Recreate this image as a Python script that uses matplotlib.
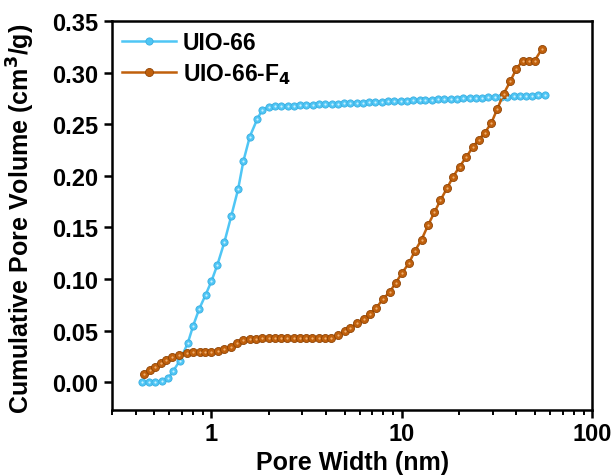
import numpy as np
import matplotlib
matplotlib.use("Agg")
from matplotlib import pyplot as plt

plt.rcParams["font.family"] = ["Liberation Sans", "DejaVu Sans"]
plt.rcParams["font.weight"] = "bold"

# UIO-66
uio_x = [0.433, 0.469, 0.508, 0.547, 0.593, 0.63, 0.682, 0.751, 0.802, 0.862,
         0.933, 1.0, 1.075, 1.17, 1.27, 1.38, 1.47, 1.59, 1.74, 1.85,
         2.0, 2.16, 2.33, 2.51, 2.71, 2.92, 3.15, 3.4, 3.67, 3.96,
         4.27, 4.61, 4.97, 5.36, 5.78, 6.24, 6.73, 7.26, 7.83, 8.45,
         9.12, 9.84, 10.6, 11.5, 12.4, 13.3, 14.4, 15.5, 16.7, 18.1,
         19.5, 21.0, 22.7, 24.5, 26.4, 28.5, 30.7, 33.1, 35.7, 38.6,
         41.6, 44.9, 48.4, 52.2, 56.4]
uio_y = [0.000, 0.000, 0.000, 0.001, 0.004, 0.011, 0.021, 0.038, 0.055, 0.071,
         0.085, 0.098, 0.114, 0.136, 0.161, 0.187, 0.214, 0.238, 0.255, 0.264,
         0.267, 0.268, 0.268, 0.268, 0.268, 0.2685, 0.2688, 0.269, 0.2692, 0.2695,
         0.2697, 0.27, 0.2702, 0.2705, 0.2707, 0.271, 0.2712, 0.2715, 0.2717, 0.272,
         0.2722, 0.2725, 0.2727, 0.273, 0.2732, 0.2735, 0.2737, 0.274, 0.2742, 0.2745,
         0.2747, 0.275, 0.2752, 0.2755, 0.2757, 0.276, 0.2762, 0.2765, 0.2767, 0.277,
         0.2772, 0.2775, 0.2777, 0.278, 0.2783]

# UIO-66-F4
f4_x = [0.441, 0.475, 0.504, 0.54, 0.58, 0.622, 0.674, 0.74, 0.80, 0.868,
        0.93, 1.0, 1.08, 1.17, 1.27, 1.36, 1.47, 1.59, 1.72, 1.85,
        2.0, 2.15, 2.32, 2.5, 2.7, 2.91, 3.14, 3.39, 3.65, 3.94,
        4.25, 4.62, 5.01, 5.37, 5.82, 6.31, 6.78, 7.35, 7.96, 8.63,
        9.27, 10.0, 10.9, 11.67, 12.7, 13.73, 14.81, 15.93, 17.28, 18.57,
        20.11, 21.73, 23.53, 25.31, 27.2, 29.5, 31.7, 34.2, 37.1, 39.9,
        43.1, 46.3, 49.8, 54.4]
f4_y = [0.0078, 0.0116, 0.0152, 0.0184, 0.0216, 0.0242, 0.0268, 0.0288, 0.0294, 0.0294,
        0.0294, 0.0294, 0.030, 0.032, 0.0346, 0.0378, 0.0407, 0.042, 0.0424, 0.0425,
        0.0425, 0.0425, 0.0425, 0.0426, 0.0426, 0.0427, 0.0427, 0.0428, 0.0428, 0.0429,
        0.043, 0.0456, 0.0494, 0.053, 0.057, 0.061, 0.066, 0.0724, 0.0805, 0.0876,
        0.096, 0.1057, 0.1154, 0.1267, 0.1383, 0.1522, 0.1645, 0.1762, 0.1881, 0.199,
        0.209, 0.2178, 0.2275, 0.2349, 0.2414, 0.2511, 0.2647, 0.2792, 0.2915, 0.3035,
        0.3115, 0.3115, 0.3115, 0.3228]

blue = "#4fc6f5"
orange = "#c0600c"

fig = plt.figure(figsize=(6.15, 4.77), dpi=100)
ax = fig.add_axes([0.182, 0.138, 0.781, 0.816])

ax.plot(uio_x, uio_y, "-o", color=blue, lw=1.8, ms=5.2, mfc=blue, mec="#3aaee0",
        mew=0.6, label="UIO-66", zorder=3)
ax.plot(uio_x, uio_y, "o", color="#c8f0ff", ms=1.6, mew=0, zorder=4)
ax.plot(f4_x, f4_y, "-o", color=orange, lw=1.8, ms=5.8, mfc=orange, mec="#8f4405",
        mew=0.6, label="UIO-66-F$_4$", zorder=3)
ax.plot(f4_x, f4_y, "o", color="#f0b070", ms=1.6, mew=0, zorder=4)

ax.set_xscale("log")
ax.set_xlim(0.3, 100)
ax.set_ylim(-0.027, 0.35)
ax.set_yticks(np.arange(0, 0.351, 0.05))
ax.yaxis.set_major_formatter(matplotlib.ticker.FormatStrFormatter("%.2f"))
ax.xaxis.set_major_formatter(matplotlib.ticker.FuncFormatter(lambda v, p: f"{v:g}"))

for s in ax.spines.values():
    s.set_linewidth(1.8)
ax.tick_params(which="major", length=6, width=1.8, labelsize=17, direction="out")
ax.tick_params(axis="x", which="major", pad=2.5)
ax.tick_params(axis="y", which="major", pad=4)
ax.tick_params(which="minor", length=3.5, width=1.4, direction="out")
ax.tick_params(axis="y", which="minor", left=False)
for lab in ax.get_xticklabels() + ax.get_yticklabels():
    lab.set_fontweight("bold")

ax.set_xlabel("Pore Width (nm)", fontsize=18, fontweight="bold")
ax.set_ylabel("Cumulative Pore Volume (cm$^3$/g)", fontsize=18, fontweight="bold")
ax.xaxis.set_label_coords(0.5, -0.102)
ax.yaxis.set_label_coords(-0.155, 0.495)

leg = ax.legend(loc="upper left", frameon=False, fontsize=16.5, handlelength=2.35,
                borderaxespad=0.2, borderpad=0.25, labelspacing=0.3, handletextpad=0.3)

plt.savefig("out.png", dpi=100)
